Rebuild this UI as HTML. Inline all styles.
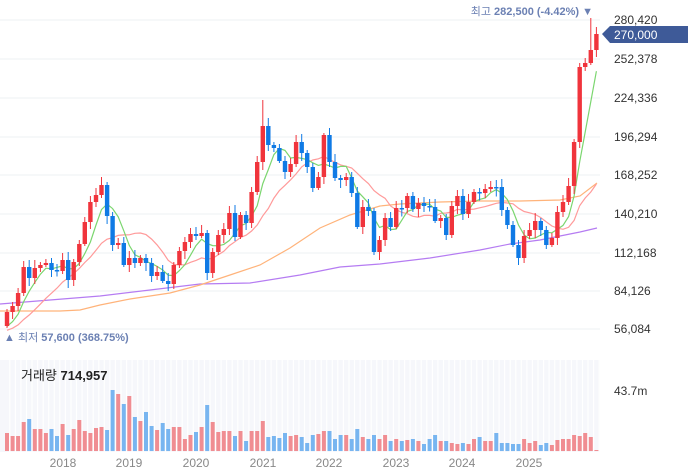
<!DOCTYPE html>
<html><head><meta charset="utf-8"><style>
html,body{margin:0;padding:0;background:#fff;}
svg{display:block;font-family:"Liberation Sans","Noto Sans CJK KR",sans-serif;}
</style></head><body>
<svg id="c" width="688" height="474" viewBox="0 0 688 474" xmlns="http://www.w3.org/2000/svg"></svg>
<script>
(function(){
var S=document.getElementById('c'),h='';
var closes=[312,306,293,267,278,268,265,263,270,271,260,280,262,244,222,202,195,185,216,245,243,265,258,263,258,263,276,272,281,284,265,251,242,234,236,233,273,252,235,229,213,237,215,223,192,162,126,145,148,161,172,164,142,153,167,188,177,135,162,178,180,177,193,227,207,211,252,240,218,227,208,208,196,209,203,206,207,221,218,235,206,196,214,202,192,193,189,187,187,210,225,245,258,236,230,221,230,245,238,212,202,186,142,67,63,50,34];
var vols=[18,15,15,29,32,22,22,18,22,15,27,16,22,31,20,18,23,24,21,61,57,47,55,34,30,39,25,21,28,22,24,24,12,16,19,24,46,29,19,20,20,15,20,10,20,20,30,14,15,13,18,15,16,14,8,16,17,20,20,12,16,16,12,22,14,12,16,12,16,10,12,10,11,12,10,7,12,16,10,10,8,7,8,7,12,14,10,10,18,8,8,7,7,12,8,10,6,8,6,11,12,12,16,15,18,14,1];
h+='<rect x="0" y="360" width="600" height="92" fill="#f6f7fb"/>';
for(var i=0;i<107;i++){var x=7+i*5.56;h+='<line x1="'+(x+2.8).toFixed(1)+'" y1="360" x2="'+(x+2.8).toFixed(1)+'" y2="452" stroke="#fff" stroke-width="1.2"/>';}
var gy=[20,59,98,137,175,214,253,291,329];
var labs=['280,420','252,378','224,336','196,294','168,252','140,210','112,168','84,126','56,084'];
gy.forEach(function(y,k){h+='<line x1="0" y1="'+y+'" x2="600" y2="'+y+'" stroke="#eef0f3" stroke-width="1"/>';h+='<text x="614" y="'+(y+4)+'" font-size="12" fill="#333">'+labs[k]+'</text>';});
function ma(n,pad){var a=[];for(var i=0;i<closes.length;i++){var s=0;for(var j=i-n+1;j<=i;j++)s+=(j<0?pad:closes[j]);a.push(s/n);}return a;}
function pl(arr,col){var p=arr.map(function(v,i){return (7+i*5.56).toFixed(1)+','+v.toFixed(1);}).join(' ');return '<polyline points="'+p+'" fill="none" stroke="'+col+'" stroke-width="1.2"/>';}
function pts(a,col){return '<polyline points="'+a.map(function(p){return p.join(',');}).join(' ')+'" fill="none" stroke="'+col+'" stroke-width="1.2"/>';}
h+=pts([[0,304],[50,300],[100,296],[150,290],[200,284],[250,283],[300,275],[340,267],[380,264],[430,258],[480,250],[510,244],[540,240],[560,236],[580,232],[597,228]],'#b57cf2');
h+=pts([[0,311],[60,311],[80,310],[100,305],[130,299],[170,293],[200,285],[230,275],[260,265],[290,248],[320,228],[350,215],[380,206],[400,204],[440,202],[480,201],[520,201],[560,200],[580,196],[597,183]],'#ffb37a');
var m20=ma(12,332);m20[106]=184;m20[105]=192;m20[104]=198;
h+=pl(m20,'#ff9a9a');
h+=pl(ma(5,330),'#7bd66f');
for(var i=0;i<107;i++){var x=7+i*5.56,c=closes[i],o=i==0?326:closes[i-1];
 var up=c<o,col=up?'#f0343c':'#0f7ae5';var bt=Math.min(o,c),bb=Math.max(o,c);if(bb-bt<1.5)bb=bt+1.5;
 var w1=3+((i*7)%6),w2=2+((i*5)%7);var hi=bt-w1,lo=bb+w2;if(i==105)hi=18;if(i==46)hi=100;if(i==57)hi=133;
 h+='<line x1="'+x.toFixed(1)+'" y1="'+hi+'" x2="'+x.toFixed(1)+'" y2="'+lo+'" stroke="'+col+'" stroke-width="1"/>';
 h+='<rect x="'+(x-2.2).toFixed(1)+'" y="'+bt+'" width="4.4" height="'+(bb-bt)+'" fill="'+col+'"/>';
 var vc=up?'#f08d92':'#78b5f0';h+='<rect x="'+(x-2).toFixed(1)+'" y="'+(451-vols[i])+'" width="4" height="'+vols[i]+'" fill="'+vc+'"/>';
}
h+='<text x="593" y="15" font-size="11" fill="#6b80b3" text-anchor="end">최고 <tspan font-weight="bold">282,500 (-4.42%)</tspan> ▼</text>';
h+='<text x="4" y="341" font-size="11" fill="#6b80b3">▲ 최저 <tspan font-weight="bold">57,600 (368.75%)</tspan></text>';
h+='<polygon points="602,34 610,26 688,26 688,43 610,43" fill="#3e5a98"/>';
h+='<text x="614" y="39" font-size="12" fill="#fff">270,000</text>';
h+='<text x="21" y="380" font-size="13" fill="#222">거래량 <tspan font-weight="bold">714,957</tspan></text>';
h+='<text x="614" y="395" font-size="12" fill="#333">43.7m</text>';
[['2018',63],['2019',129],['2020',196],['2021',263],['2022',329],['2023',396],['2024',462],['2025',529]].forEach(function(a){h+='<text x="'+a[1]+'" y="467" font-size="12" fill="#888" text-anchor="middle">'+a[0]+'</text>';});
S.innerHTML=h;
})();
</script>
</body></html>
